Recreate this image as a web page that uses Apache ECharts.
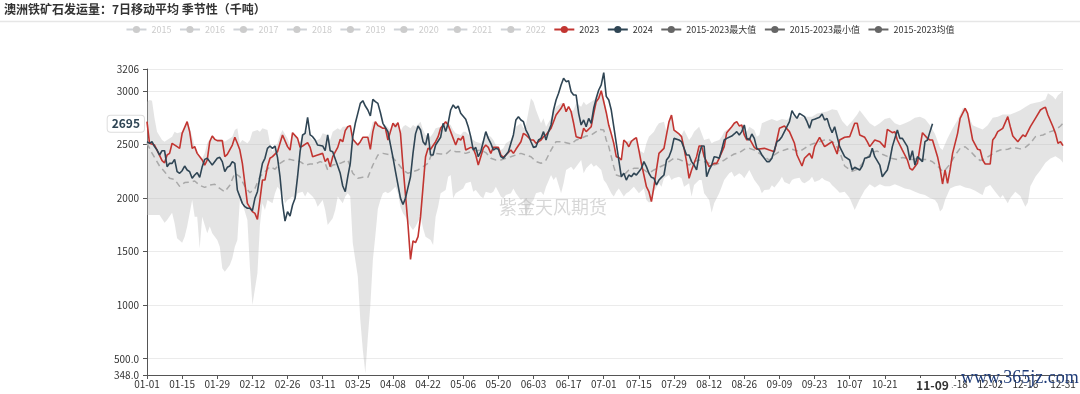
<!DOCTYPE html>
<html><head><meta charset="utf-8">
<script src="https://cdn.jsdelivr.net/npm/echarts@6/dist/echarts.min.js"></script>
<style>html,body{margin:0;padding:0;background:#fff}#c{width:1080px;height:394px}</style>
</head><body><div id="c"></div>
<script>
// ---- categories (leap-year calendar, MM-DD) ----
const monthDays = [31,29,31,30,31,30,31,31,30,31,30,31];
const categories = [];
monthDays.forEach((n, m) => { for (let d = 1; d <= n; d++) categories.push(String(m+1).padStart(2,'0') + '-' + String(d).padStart(2,'0')); });

const legendYears = ['2015','2016','2017','2018','2019','2020','2021','2022'];
const yTicksMin = 348, yTicksMax = 3206;
const pointerDay = 313, pointerValue = 2695;

// ---- series values as [dayIndex, value] ----
const s2023 = [[0,2714],[1,2512],[3,2496],[5,2400],[6,2350],[7,2330],[8,2403],[9,2418],[10,2512],[12,2481],[13,2465],[14,2605],[16,2714],[17,2621],[18,2465],[19,2481],[20,2418],[22,2356],[23,2309],[24,2356],[25,2527],[26,2580],[27,2549],[28,2537],[30,2537],[31,2387],[32,2409],[34,2496],[35,2568],[36,2512],[37,2449],[38,2325],[39,2138],[40,1951],[42,1874],[43,1858],[44,1802],[45,1983],[46,2169],[47,2169],[48,2294],[49,2372],[50,2387],[52,2434],[53,2512],[54,2590],[56,2481],[57,2449],[58,2611],[60,2558],[61,2474],[62,2487],[64,2518],[65,2474],[66,2387],[68,2403],[70,2418],[71,2341],[72,2372],[73,2294],[74,2387],[76,2474],[77,2549],[78,2527],[79,2630],[80,2667],[81,2677],[82,2549],[84,2496],[85,2527],[86,2568],[88,2568],[89,2456],[90,2621],[91,2714],[92,2677],[93,2667],[94,2652],[95,2652],[96,2543],[97,2621],[98,2699],[99,2667],[100,2705],[101,2605],[102,2300],[103,2030],[104,1750],[105,1428],[106,1600],[107,1584],[108,1640],[109,1827],[110,2107],[111,2387],[112,2465],[113,2456],[115,2527],[116,2574],[117,2652],[119,2714],[120,2683],[121,2621],[123,2496],[124,2558],[125,2543],[126,2580],[127,2449],[129,2474],[130,2465],[131,2403],[132,2309],[133,2387],[134,2465],[135,2496],[136,2474],[137,2418],[138,2474],[140,2474],[141,2403],[142,2381],[143,2403],[145,2449],[146,2418],[147,2456],[149,2527],[150,2605],[151,2590],[153,2543],[154,2543],[155,2512],[157,2543],[158,2574],[159,2590],[161,2652],[162,2714],[163,2776],[165,2839],[166,2885],[167,2807],[168,2854],[169,2807],[170,2699],[171,2574],[173,2558],[174,2652],[175,2621],[177,2667],[178,2792],[179,2901],[180,2932],[181,3004],[182,2900],[183,2800],[184,2680],[185,2600],[186,2512],[187,2387],[188,2380],[189,2356],[190,2543],[191,2520],[192,2480],[193,2530],[194,2550],[195,2565],[196,2449],[197,2325],[198,2216],[199,2107],[200,2060],[201,1967],[202,2107],[203,2263],[204,2418],[206,2465],[207,2590],[208,2714],[209,2776],[210,2636],[212,2599],[213,2574],[214,2465],[215,2341],[216,2185],[217,2263],[218,2325],[219,2387],[220,2487],[221,2487],[222,2387],[223,2341],[224,2294],[226,2325],[227,2325],[228,2372],[230,2481],[231,2611],[233,2667],[234,2699],[235,2714],[236,2674],[237,2683],[238,2590],[239,2543],[240,2558],[242,2474],[243,2456],[246,2465],[248,2449],[250,2434],[251,2543],[252,2652],[254,2674],[256,2621],[258,2512],[259,2403],[261,2300],[262,2372],[264,2418],[265,2372],[266,2481],[268,2568],[270,2481],[271,2496],[273,2527],[275,2412],[276,2543],[278,2568],[280,2574],[282,2699],[283,2699],[284,2590],[286,2568],[287,2527],[288,2481],[290,2543],[292,2527],[294,2474],[295,2642],[297,2611],[298,2621],[299,2543],[301,2449],[303,2356],[304,2278],[305,2263],[307,2325],[308,2474],[309,2611],[311,2558],[312,2543],[313,2543],[315,2387],[316,2278],[317,2132],[318,2263],[319,2138],[320,2263],[321,2418],[323,2605],[324,2745],[326,2839],[327,2792],[328,2667],[329,2543],[331,2456],[332,2449],[333,2356],[334,2319],[336,2319],[337,2543],[338,2574],[339,2621],[341,2652],[343,2761],[344,2667],[345,2580],[347,2527],[349,2590],[350,2574],[352,2667],[354,2745],[356,2823],[357,2839],[358,2848],[359,2776],[361,2667],[362,2605],[363,2512],[364,2527],[365,2490]];

const s2024 = [[0,2527],[1,2512],[2,2527],[3,2481],[4,2449],[5,2403],[6,2443],[7,2443],[8,2294],[9,2325],[10,2325],[11,2362],[12,2247],[13,2232],[14,2256],[15,2300],[16,2263],[17,2247],[18,2185],[19,2216],[20,2238],[21,2194],[22,2294],[23,2362],[24,2372],[25,2341],[26,2309],[28,2372],[29,2381],[30,2341],[31,2247],[32,2288],[33,2300],[34,2341],[35,2325],[36,2076],[37,2014],[38,1951],[39,1920],[40,1905],[41,1905],[42,1883],[43,1998],[44,2060],[45,2200],[46,2325],[47,2372],[48,2465],[49,2487],[50,2465],[51,2487],[52,2381],[53,2200],[54,1951],[55,1786],[56,1874],[57,1833],[58,1936],[59,1998],[60,2200],[61,2434],[62,2590],[63,2605],[64,2755],[65,2590],[66,2574],[67,2543],[68,2496],[70,2487],[71,2443],[72,2590],[73,2443],[74,2434],[76,2300],[77,2232],[78,2113],[79,2060],[80,2200],[81,2325],[82,2574],[83,2699],[84,2792],[85,2885],[86,2910],[87,2860],[88,2823],[89,2767],[90,2923],[91,2901],[92,2885],[93,2800],[94,2699],[96,2620],[97,2500],[98,2380],[99,2250],[101,2000],[102,1940],[103,2000],[104,2100],[105,2200],[106,2420],[107,2600],[108,2674],[109,2636],[110,2527],[111,2496],[112,2605],[113,2403],[114,2403],[115,2496],[117,2568],[118,2699],[119,2621],[120,2700],[121,2823],[122,2870],[123,2839],[124,2860],[125,2792],[127,2736],[128,2667],[129,2574],[130,2449],[131,2474],[132,2387],[133,2434],[134,2527],[135,2621],[136,2558],[137,2512],[138,2449],[139,2465],[140,2456],[141,2387],[142,2372],[143,2403],[144,2434],[145,2512],[146,2590],[147,2730],[148,2761],[149,2730],[150,2714],[151,2636],[152,2590],[153,2527],[154,2474],[155,2481],[156,2543],[157,2558],[158,2621],[159,2543],[160,2621],[161,2683],[162,2823],[163,2916],[164,2979],[165,3057],[166,3119],[167,3088],[168,3097],[169,2994],[170,2963],[171,2963],[172,2792],[173,2683],[174,2730],[175,2667],[176,2745],[177,2699],[178,2839],[179,2932],[180,3010],[181,3057],[182,3172],[183,2950],[184,2916],[185,2823],[186,2667],[187,2512],[188,2356],[189,2200],[190,2232],[191,2169],[192,2216],[193,2200],[194,2232],[195,2216],[196,2247],[197,2278],[198,2341],[199,2294],[200,2232],[201,2194],[202,2185],[203,2123],[204,2169],[205,2194],[206,2216],[207,2356],[208,2387],[209,2449],[210,2558],[212,2543],[213,2527],[214,2465],[215,2403],[216,2403],[217,2341],[218,2309],[219,2263],[220,2403],[221,2487],[222,2487],[223,2200],[224,2263],[225,2309],[226,2387],[227,2381],[228,2372],[229,2449],[230,2543],[231,2558],[233,2580],[234,2599],[235,2621],[236,2590],[237,2621],[238,2683],[239,2558],[240,2543],[241,2599],[242,2558],[243,2465],[244,2449],[245,2403],[246,2372],[247,2341],[248,2341],[249,2372],[250,2449],[251,2527],[252,2543],[253,2574],[255,2667],[256,2714],[257,2817],[258,2776],[259,2745],[260,2792],[262,2761],[263,2714],[264,2652],[265,2730],[266,2736],[268,2755],[269,2786],[270,2730],[271,2745],[272,2667],[273,2611],[274,2667],[275,2574],[276,2481],[277,2434],[278,2387],[280,2356],[281,2263],[282,2288],[284,2263],[285,2300],[286,2372],[288,2387],[289,2465],[290,2387],[292,2309],[293,2200],[294,2232],[295,2263],[296,2356],[297,2481],[299,2636],[300,2558],[301,2558],[303,2481],[304,2356],[305,2443],[306,2309],[307,2387],[309,2341],[310,2527],[311,2543],[312,2621],[313,2695]];

const sMean = [[0,2512],[2,2420],[5,2300],[7,2247],[9,2185],[11,2175],[13,2110],[15,2145],[17,2150],[19,2160],[21,2120],[23,2100],[25,2123],[27,2130],[29,2090],[31,2060],[33,2120],[35,2232],[37,2200],[39,2110],[41,2050],[43,2090],[45,2200],[47,2247],[49,2294],[51,2270],[53,2325],[55,2356],[57,2362],[59,2350],[61,2341],[63,2309],[65,2318],[67,2318],[69,2341],[71,2325],[72,2263],[74,2309],[77,2325],[80,2356],[82,2232],[84,2185],[86,2194],[88,2194],[90,2309],[92,2403],[94,2418],[97,2403],[100,2325],[102,2263],[104,2232],[106,2247],[108,2263],[110,2294],[112,2325],[113,2387],[115,2418],[117,2412],[119,2409],[121,2449],[123,2434],[125,2434],[127,2418],[129,2434],[131,2443],[133,2449],[135,2425],[137,2372],[139,2356],[141,2356],[143,2372],[145,2387],[147,2403],[149,2418],[151,2403],[153,2387],[155,2341],[157,2325],[159,2356],[161,2449],[163,2527],[165,2527],[167,2518],[169,2505],[171,2543],[173,2558],[175,2580],[177,2590],[179,2621],[180,2642],[182,2636],[183,2543],[184,2481],[185,2387],[186,2294],[187,2216],[189,2200],[190,2216],[192,2263],[194,2278],[196,2278],[198,2263],[200,2232],[202,2263],[204,2288],[206,2309],[208,2341],[210,2372],[212,2362],[214,2341],[216,2309],[218,2341],[220,2356],[222,2341],[224,2325],[226,2309],[228,2325],[230,2356],[232,2387],[234,2412],[236,2425],[238,2456],[240,2465],[242,2449],[244,2418],[246,2387],[248,2356],[250,2403],[252,2434],[254,2449],[256,2465],[258,2449],[260,2434],[262,2465],[264,2496],[266,2512],[268,2527],[270,2543],[272,2543],[274,2512],[276,2434],[278,2300],[281,2250],[283,2270],[285,2320],[287,2380],[289,2430],[291,2440],[293,2410],[295,2390],[297,2370],[299,2360],[301,2380],[303,2370],[305,2360],[307,2370],[309,2360],[311,2360],[313,2340],[315,2300],[317,2250],[318,2260],[320,2320],[322,2400],[324,2465],[326,2480],[328,2440],[330,2390],[332,2350],[334,2370],[336,2400],[338,2430],[340,2450],[343,2456],[345,2474],[348,2460],[350,2474],[352,2512],[354,2574],[357,2590],[360,2621],[362,2636],[364,2674],[365,2700]];

const sMax = [[0,2901],[1,2916],[2,2910],[3,2745],[4,2621],[6,2543],[7,2527],[8,2543],[10,2574],[11,2621],[12,2605],[14,2620],[15,2650],[16,2714],[17,2660],[18,2574],[19,2481],[20,2430],[22,2370],[23,2418],[24,2512],[26,2590],[27,2560],[28,2545],[30,2545],[31,2527],[32,2543],[34,2574],[35,2636],[36,2652],[37,2512],[38,2543],[40,2512],[41,2543],[42,2621],[44,2636],[45,2621],[46,2652],[48,2636],[49,2512],[50,2434],[52,2512],[53,2590],[54,2636],[56,2558],[57,2496],[58,2615],[60,2560],[61,2518],[62,2590],[64,2636],[65,2574],[66,2543],[68,2543],[69,2558],[70,2605],[72,2590],[73,2543],[74,2621],[76,2652],[77,2636],[78,2667],[80,2670],[81,2680],[82,2560],[84,2512],[85,2530],[86,2570],[88,2570],[89,2621],[90,2714],[91,2714],[92,2699],[93,2683],[94,2667],[95,2683],[97,2636],[98,2699],[100,2705],[101,2621],[102,2667],[103,2683],[105,2652],[106,2683],[107,2667],[109,2714],[110,2636],[111,2590],[113,2574],[114,2605],[115,2652],[117,2667],[118,2683],[119,2714],[121,2683],[122,2636],[123,2605],[125,2590],[126,2621],[127,2621],[129,2574],[130,2543],[131,2527],[133,2512],[134,2543],[135,2590],[137,2574],[138,2543],[139,2496],[141,2449],[142,2465],[143,2512],[145,2543],[146,2605],[147,2667],[149,2699],[150,2652],[151,2683],[153,2932],[154,2901],[155,2823],[157,2699],[158,2745],[159,2667],[161,2745],[162,2823],[163,2854],[165,2885],[166,2885],[167,2839],[169,2807],[170,2823],[171,2885],[173,2854],[174,2901],[175,2870],[177,2901],[178,2916],[179,2932],[181,3004],[182,2948],[183,2800],[184,2700],[185,2636],[186,2512],[187,2400],[188,2380],[189,2372],[190,2543],[191,2527],[193,2543],[194,2558],[195,2565],[196,2449],[198,2418],[199,2512],[200,2574],[202,2621],[203,2667],[204,2699],[206,2714],[207,2621],[208,2714],[209,2776],[210,2636],[212,2605],[213,2590],[214,2636],[216,2543],[217,2574],[218,2621],[220,2667],[221,2605],[222,2543],[224,2558],[225,2512],[226,2527],[228,2543],[229,2574],[230,2621],[232,2652],[233,2667],[234,2699],[235,2714],[236,2680],[238,2636],[239,2621],[240,2667],[242,2636],[243,2574],[244,2590],[245,2700],[247,2720],[249,2740],[251,2720],[253,2740],[255,2730],[257,2770],[259,2750],[261,2760],[263,2760],[265,2760],[267,2790],[269,2800],[271,2810],[273,2830],[275,2820],[277,2720],[279,2670],[281,2720],[283,2780],[284,2820],[286,2760],[288,2700],[290,2670],[292,2700],[294,2740],[296,2750],[298,2700],[300,2680],[302,2700],[304,2720],[306,2750],[308,2760],[310,2740],[312,2680],[314,2600],[316,2470],[317,2450],[319,2560],[321,2650],[323,2730],[325,2840],[326,2848],[327,2790],[329,2680],[331,2660],[333,2640],[335,2680],[337,2750],[339,2760],[341,2780],[343,2780],[344,2780],[346,2800],[348,2820],[350,2850],[352,2880],[354,2890],[356,2900],[358,2920],[359,2980],[361,2950],[362,2920],[363,2960],[364,2980],[365,3000]];

const sMin = [[0,1843],[3,1843],[5,1843],[7,1771],[8,1796],[10,1864],[11,1765],[12,1625],[14,1584],[15,1640],[16,1734],[18,1983],[19,1827],[20,1827],[21,1531],[22,1827],[24,1671],[25,1734],[26,1671],[28,1609],[29,1547],[30,1344],[31,1313],[33,1376],[34,1438],[35,1547],[36,1609],[37,1983],[38,1951],[40,1796],[41,1360],[42,1002],[44,1298],[45,1749],[46,1951],[47,1889],[48,1983],[50,1951],[51,2045],[52,2107],[54,2045],[55,1951],[56,1983],[58,2014],[59,1983],[60,2045],[62,2060],[63,2014],[64,2060],[66,2014],[67,1983],[68,1920],[70,1983],[71,1889],[72,1749],[74,1811],[75,1889],[76,2014],[78,1951],[79,2014],[80,2045],[81,2014],[82,1578],[84,1267],[85,862],[86,582],[87,364],[88,700],[89,1000],[90,1422],[91,1650],[92,1900],[93,1983],[94,2045],[95,2060],[96,2045],[97,2060],[99,2107],[100,2045],[101,1920],[102,1858],[103,1827],[105,1734],[106,1702],[107,1734],[109,1827],[110,1718],[111,1640],[113,1609],[114,1562],[115,1827],[116,1920],[117,2045],[119,2076],[120,2200],[121,2216],[122,1998],[123,2045],[125,2076],[126,2091],[127,2138],[129,2154],[130,2060],[131,2076],[133,2014],[134,1998],[135,2060],[137,2045],[138,2060],[139,2107],[141,2014],[142,1998],[143,2029],[145,2045],[146,2091],[147,2045],[149,1983],[150,1998],[151,1827],[153,1951],[154,1983],[155,2045],[157,2060],[158,2029],[159,2107],[161,2216],[162,2169],[163,2200],[165,2045],[166,2138],[167,2263],[169,2294],[170,2263],[171,2294],[173,2356],[174,2232],[175,2278],[177,2325],[178,2294],[179,2309],[181,2263],[182,2169],[183,2138],[185,2045],[186,2014],[187,2060],[188,2091],[190,2014],[191,2045],[192,2060],[194,2107],[195,2076],[196,2045],[198,2091],[199,1983],[200,1958],[201,1967],[202,2060],[204,2138],[205,2107],[206,2185],[208,2216],[209,2169],[210,2185],[212,2200],[213,2185],[214,2107],[216,2138],[217,2014],[218,2123],[220,2169],[221,2169],[222,2045],[224,1983],[225,1864],[226,1951],[228,2045],[229,2107],[230,2169],[232,2232],[233,2247],[234,2200],[236,2232],[237,2216],[238,2185],[240,2263],[241,2216],[242,2169],[244,2107],[245,2045],[246,2076],[248,2080],[249,2120],[250,2100],[252,2160],[253,2200],[254,2150],[256,2130],[257,2170],[258,2180],[260,2190],[261,2150],[262,2140],[264,2170],[265,2200],[266,2150],[268,2170],[269,2190],[270,2170],[272,2150],[273,2120],[274,2100],[275,2076],[276,2050],[278,2060],[280,2000],[282,1889],[284,1990],[286,2076],[288,2130],[290,2100],[292,2130],[294,2110],[296,2110],[298,2130],[300,2110],[302,2090],[304,2080],[306,2060],[308,2040],[310,2030],[312,2000],[314,1983],[315,1950],[316,1874],[317,1900],[318,1983],[320,2090],[322,2110],[324,2120],[326,2100],[328,2090],[330,2070],[332,2040],[333,2030],[334,2100],[336,2123],[338,2060],[340,2000],[341,2030],[342,1990],[343,1951],[344,2000],[346,2060],[348,2020],[350,1920],[351,1960],[352,2110],[354,2200],[356,2260],[358,2330],[360,2370],[362,2390],[364,2360],[365,2330]];

const FONT = '"Noto Sans CJK SC","Noto Sans",sans-serif';
const showTick = (i) => (i % 14 === 0 && i !== 364) || i === 365;
const showLabel = (i) => showTick(i) && i !== 308; // 11-04 sits under the 11-09 pointer label
const greyLegend = { itemStyle: { color: '#666' }, lineStyle: { color: '#666', type: 'solid', width: 2, opacity: 1 } };

const legendData = legendYears.map(n => ({ name: n }))
  .concat([{ name: '2023' }, { name: '2024' },
    Object.assign({ name: '2015-2023最大值' }, greyLegend),
    Object.assign({ name: '2015-2023最小值' }, greyLegend),
    Object.assign({ name: '2015-2023均值' }, greyLegend)]);
const selected = {}; legendYears.forEach(n => selected[n] = false);

const series = [];
series.push({
  type: 'custom', name: 'band', silent: true, z: 1, clip: true,
  data: [[0, 2500]], encode: { x: 0, y: 1 },
  renderItem: (params, api) => {
    const pts = [];
    sMax.forEach(p => pts.push(api.coord(p)));
    for (let i = sMin.length - 1; i >= 0; i--) pts.push(api.coord(sMin[i]));
    return { type: 'polygon', shape: { points: pts }, style: { fill: 'rgba(185,185,185,0.38)' } };
  }
});
legendYears.forEach(n => series.push({ type: 'line', name: n, data: [], symbol: 'circle', showSymbol: false }));
series.push({ type: 'line', name: '2023', data: s2023, symbol: 'circle', showSymbol: false, color: '#c23531', lineStyle: { width: 1.6, color: '#c23531' }, z: 4 });
series.push({ type: 'line', name: '2024', data: s2024, symbol: 'circle', showSymbol: false, color: '#2f4554', lineStyle: { width: 1.6, color: '#2f4554' }, z: 5 });
series.push({ type: 'line', name: '2015-2023最大值', data: sMax, symbol: 'circle', showSymbol: false, color: '#666', lineStyle: { opacity: 0 }, silent: true });
series.push({ type: 'line', name: '2015-2023最小值', data: sMin, symbol: 'circle', showSymbol: false, color: '#666', lineStyle: { opacity: 0 }, silent: true });
series.push({ type: 'line', name: '2015-2023均值', data: sMean, symbol: 'circle', showSymbol: false, color: '#666', lineStyle: { color: '#a9a9a9', width: 1.5, type: [6, 4] }, z: 3 });

const chart = echarts.init(document.getElementById('c'), null, { renderer: 'canvas' });
chart.setOption({
  animation: false,
  textStyle: { fontFamily: FONT },
  title: { text: '澳洲铁矿石发运量：7日移动平均 季节性（千吨）', left: 4, top: 3, padding: 0,
    textStyle: { fontSize: 12, fontWeight: 'bold', color: '#333', fontFamily: FONT } },
  legend: { top: 25, left: 'center', padding: 0, itemWidth: 20, itemHeight: 9, itemGap: 7.5,
    textStyle: { fontSize: 9, color: '#333', fontFamily: FONT }, inactiveColor: '#ccc',
    data: legendData, selected: selected },
  grid: { left: 147, right: 17, top: 69, bottom: 19, containLabel: false },
  xAxis: {
    type: 'category', data: categories, boundaryGap: false,
    axisLine: { lineStyle: { color: '#555' } },
    axisTick: { interval: showTick, length: 4, lineStyle: { color: '#555' } },
    axisLabel: { interval: showLabel, fontSize: 10, color: '#333', margin: 4, fontFamily: FONT },
    splitLine: { show: false },
    axisPointer: { show: true, type: 'line', value: pointerDay, status: 'show', snap: true, triggerTooltip: false,
      lineStyle: { opacity: 0 },
      label: { show: true, backgroundColor: '#fff', color: '#333', fontWeight: 'bold', fontSize: 12, padding: [1, 3], margin: 3, fontFamily: FONT } }
  },
  yAxis: {
    type: 'value', min: yTicksMin, max: yTicksMax,
    axisLine: { show: true, lineStyle: { color: '#555' } },
    axisTick: { show: true, length: 4, lineStyle: { color: '#555' } },
    axisLabel: { fontSize: 10, color: '#333', fontFamily: FONT,
      formatter: v => v < 1000 ? v.toFixed(1) : String(Math.round(v)) },
    splitLine: { lineStyle: { color: '#ebebeb' } },
    axisPointer: { show: true, type: 'line', value: pointerValue, status: 'show', triggerTooltip: false,
      lineStyle: { opacity: 0 },
      label: { show: true, backgroundColor: '#fff', color: '#2f4554', fontWeight: 'bold', fontSize: 12,
        padding: [2, 4], borderColor: '#ddd', borderWidth: 1, fontFamily: FONT,
        formatter: p => String(Math.round(p.value)) } }
  },
  graphic: [
    { type: 'line', shape: { x1: 0, y1: 21.5, x2: 1080, y2: 21.5 }, style: { stroke: '#e6e6e6', lineWidth: 1.5 }, silent: true },
    { type: 'text', x: 553, y: 207, z: 1, silent: true,
      style: { text: '紫金天风期货', fill: 'rgba(0,0,0,0.16)', font: '18px ' + FONT, align: 'center', verticalAlign: 'middle' } },
    { type: 'text', x: 961, y: 378, z: 100, silent: true,
      style: { text: 'www.365jz.com', fill: '#1f3c78', font: '18px "Liberation Serif", serif', align: 'left', verticalAlign: 'middle' } }
  ],
  series: series
});
</script></body></html>
